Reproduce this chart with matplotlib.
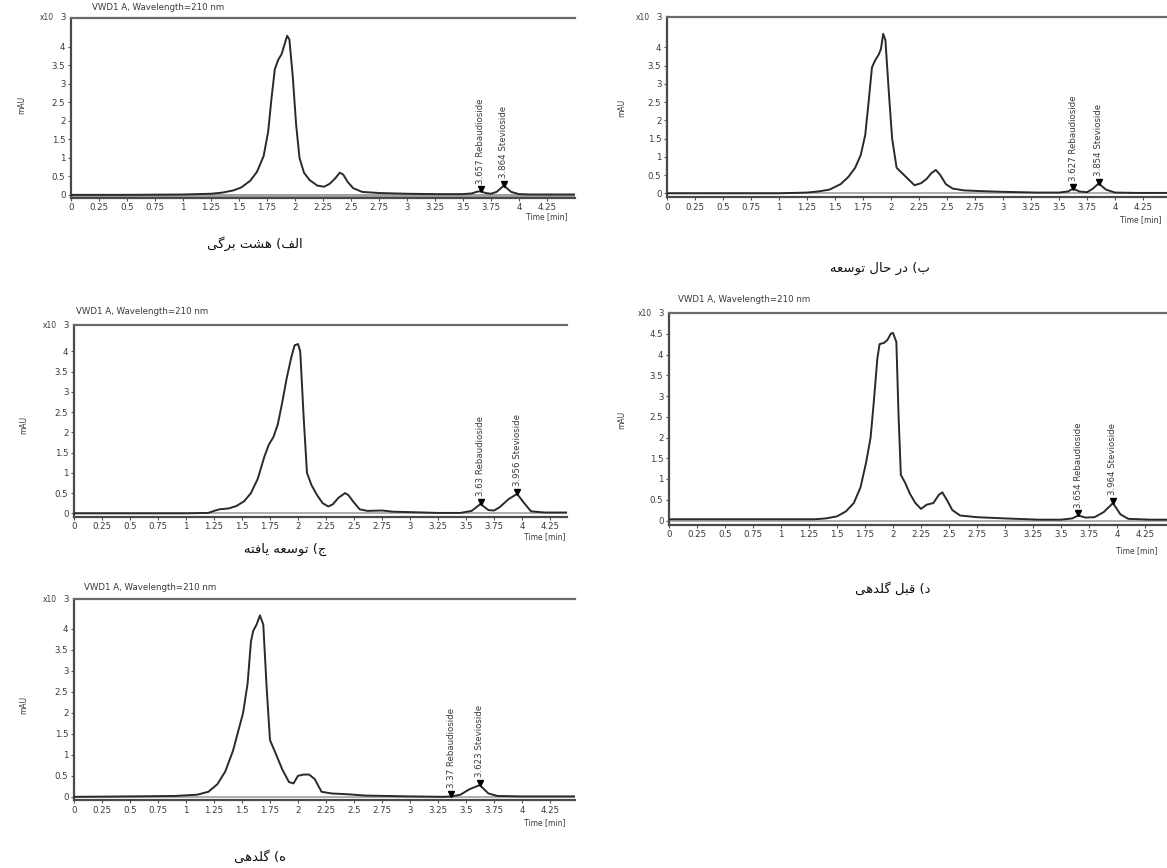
import matplotlib
matplotlib.use("Agg")
import matplotlib.pyplot as plt

# ---------------- data ----------------
tA = [0, 0.5, 1.0, 1.25, 1.35, 1.45, 1.52, 1.6, 1.66, 1.72, 1.76, 1.79, 1.82, 1.85, 1.88, 1.91, 1.93, 1.95,
      1.98, 2.01, 2.04, 2.08, 2.13, 2.2, 2.26, 2.31, 2.36, 2.4, 2.43, 2.47, 2.52, 2.6, 2.75, 3.0, 3.25, 3.5,
      3.58, 3.62, 3.657, 3.7, 3.75, 3.8, 3.864, 3.93, 4.0, 4.1, 4.5]
vA = [0, 0, 0.01, 0.03, 0.06, 0.12, 0.2, 0.38, 0.62, 1.05, 1.7, 2.6, 3.4, 3.65, 3.8, 4.1, 4.3, 4.2,
      3.2, 1.9, 1.0, 0.6, 0.4, 0.25, 0.22, 0.3, 0.45, 0.6, 0.55, 0.35, 0.18, 0.08, 0.05, 0.03, 0.02, 0.02,
      0.04, 0.08, 0.1, 0.05, 0.03, 0.08, 0.25, 0.08, 0.02, 0.01, 0.01]

tB = [0, 0.5, 1.0, 1.25, 1.35, 1.45, 1.55, 1.62, 1.68, 1.73, 1.77, 1.8, 1.83, 1.86, 1.89, 1.91, 1.93, 1.95,
      1.98, 2.01, 2.05, 2.1, 2.15, 2.21, 2.27, 2.32, 2.36, 2.4, 2.44, 2.49, 2.55, 2.65, 2.8, 3.0, 3.3, 3.5,
      3.58, 3.627, 3.68, 3.75, 3.8, 3.854, 3.92, 4.0, 4.2, 4.55]
vB = [0, 0, 0, 0.02, 0.05, 0.1, 0.25, 0.45, 0.7, 1.05, 1.6, 2.5, 3.45, 3.65, 3.8, 3.95, 4.37, 4.2,
      2.8, 1.5, 0.7, 0.55, 0.4, 0.22, 0.28, 0.4, 0.55, 0.64, 0.5, 0.25, 0.13, 0.08, 0.06, 0.04, 0.02, 0.02,
      0.05, 0.13, 0.05, 0.03, 0.12, 0.27, 0.1, 0.02, 0.01, 0.01]

tC = [0, 0.5, 1.0, 1.2, 1.25, 1.3, 1.38, 1.45, 1.52, 1.58, 1.64, 1.7, 1.74, 1.78, 1.82, 1.86, 1.9, 1.94,
      1.97, 2.0, 2.02, 2.05, 2.08, 2.12, 2.17, 2.22, 2.27, 2.31, 2.36, 2.42, 2.45, 2.49, 2.55, 2.62, 2.75,
      2.85, 3.0, 3.25, 3.45, 3.55, 3.63, 3.7, 3.75, 3.8, 3.88, 3.956, 4.02, 4.08, 4.2, 4.4]
vC = [0, 0, 0, 0.01, 0.06, 0.1, 0.12, 0.18, 0.3, 0.5, 0.85, 1.4, 1.7, 1.88, 2.2, 2.75, 3.35, 3.85,
      4.15, 4.18, 4.0, 2.4, 1.0, 0.7, 0.45, 0.25, 0.17, 0.22, 0.38, 0.5, 0.45, 0.3, 0.1, 0.06, 0.07,
      0.04, 0.03, 0.01, 0.01, 0.06, 0.23, 0.08, 0.07, 0.15, 0.35, 0.48, 0.25, 0.05, 0.02, 0.02]

tD = [0, 0.5, 1.0, 1.3, 1.4, 1.5, 1.58, 1.65, 1.71, 1.76, 1.8, 1.83, 1.86, 1.88, 1.92, 1.95, 1.98, 2.0,
      2.03, 2.05, 2.07, 2.11, 2.15, 2.2, 2.25, 2.3, 2.36, 2.41, 2.44, 2.48, 2.53, 2.6, 2.75, 3.0, 3.3, 3.5,
      3.6, 3.654, 3.72, 3.8, 3.88, 3.964, 4.03, 4.1, 4.3, 4.55]
vD = [0.03, 0.03, 0.03, 0.03, 0.05, 0.1, 0.22, 0.42, 0.8, 1.4, 2.0, 2.9, 3.9, 4.25, 4.28, 4.35, 4.5, 4.52,
      4.3, 2.5, 1.1, 0.9, 0.65, 0.42, 0.28, 0.38, 0.42, 0.62, 0.68, 0.5, 0.25, 0.12, 0.08, 0.05, 0.02, 0.02,
      0.05, 0.12, 0.07, 0.08, 0.2, 0.42, 0.15, 0.04, 0.02, 0.02]

tE = [0, 0.5, 0.9, 1.1, 1.2, 1.28, 1.35, 1.42, 1.47, 1.51, 1.55, 1.58, 1.6, 1.63, 1.66, 1.69, 1.72, 1.75,
      1.79, 1.86, 1.92, 1.96, 2.0, 2.05, 2.1, 2.15, 2.21, 2.3, 2.45, 2.6, 3.0, 3.3, 3.37, 3.45, 3.53, 3.623,
      3.7, 3.78, 4.0, 4.5]
vE = [0, 0.01, 0.02, 0.05, 0.12, 0.3, 0.6, 1.1, 1.6, 2.0, 2.7, 3.7, 3.95, 4.1, 4.32, 4.1, 2.6, 1.35,
      1.1, 0.65, 0.35, 0.32, 0.5, 0.53, 0.53, 0.42, 0.12, 0.08, 0.06, 0.03, 0.01, 0.0, 0.01, 0.05, 0.18, 0.28,
      0.08, 0.02, 0.01, 0.01]

peak_labels = {
    "A": ["3.657 Rebaudioside", "3.864 Stevioside"],
    "B": ["3.627 Rebaudioside", "3.854 Stevioside"],
    "C": ["3.63 Rebaudioside", "3.956 Stevioside"],
    "D": ["3.654 Rebaudioside", "3.964 Stevioside"],
    "E": ["3.37 Rebaudioside", "3.623 Stevioside"],
}
peak_times = {"A": [3.657, 3.864], "B": [3.627, 3.854], "C": [3.63, 3.956],
              "D": [3.654, 3.964], "E": [3.37, 3.623]}
peak_heights = {"A": [0.1, 0.25], "B": [0.13, 0.27], "C": [0.23, 0.48],
                "D": [0.12, 0.42], "E": [0.02, 0.28]}

captions = {"A": "الف) هشت برگی", "B": "ب) در حال توسعه", "C": "ج) توسعه یافته",
            "D": "د) قبل گلدهی", "E": "ه) گلدهی"}

x_ticks = [0, 0.25, 0.5, 0.75, 1, 1.25, 1.5, 1.75, 2, 2.25, 2.5, 2.75, 3, 3.25, 3.5, 3.75, 4, 4.25]
x_tick_labels = ["0", "0.25", "0.5", "0.75", "1", "1.25", "1.5", "1.75", "2", "2.25", "2.5", "2.75",
                 "3", "3.25", "3.5", "3.75", "4", "4.25"]
y_ticks = [0, 0.5, 1, 1.5, 2, 2.5, 3, 3.5, 4, 4.5]
y_tick_labels = ["0", "0.5", "1", "1.5", "2", "2.5", "3", "3.5", "4", "4.5"]
title_text = "VWD1 A, Wavelength=210 nm"

# ---------------- Arabic/Persian shaping ----------------
FORMS = {
    'ا': ('\uFE8D', '\uFE8E', None, None),
    'ب': ('\uFE8F', '\uFE90', '\uFE91', '\uFE92'),
    'ت': ('\uFE95', '\uFE96', '\uFE97', '\uFE98'),
    'ج': ('\uFE9D', '\uFE9E', '\uFE9F', '\uFEA0'),
    'ح': ('\uFEA1', '\uFEA2', '\uFEA3', '\uFEA4'),
    'د': ('\uFEA9', '\uFEAA', None, None),
    'ر': ('\uFEAD', '\uFEAE', None, None),
    'س': ('\uFEB1', '\uFEB2', '\uFEB3', '\uFEB4'),
    'ش': ('\uFEB5', '\uFEB6', '\uFEB7', '\uFEB8'),
    'ع': ('\uFEC9', '\uFECA', '\uFECB', '\uFECC'),
    'ف': ('\uFED1', '\uFED2', '\uFED3', '\uFED4'),
    'ق': ('\uFED5', '\uFED6', '\uFED7', '\uFED8'),
    'ل': ('\uFEDD', '\uFEDE', '\uFEDF', '\uFEE0'),
    'ه': ('\uFEE9', '\uFEEA', '\uFEEB', '\uFEEC'),
    'و': ('\uFEED', '\uFEEE', None, None),
    'ی': ('\uFBFC', '\uFBFD', '\uFBFE', '\uFBFF'),
    'گ': ('\uFB92', '\uFB93', '\uFB94', '\uFB95'),
}


def shape_rtl(text):
    out = []
    n = len(text)
    for i, ch in enumerate(text):
        if ch not in FORMS:
            out.append(ch)
            continue
        prev = text[i - 1] if i > 0 else None
        nxt = text[i + 1] if i < n - 1 else None
        join_prev = prev in FORMS and FORMS[prev][2] is not None
        join_next = FORMS[ch][2] is not None and nxt in FORMS
        iso, fin, ini, med = FORMS[ch]
        if join_prev and join_next:
            out.append(med)
        elif join_prev:
            out.append(fin)
        elif join_next:
            out.append(ini)
        else:
            out.append(iso)
    vis = "".join(reversed(out))
    vis = vis.translate(str.maketrans({"(": ")", ")": "("}))
    return vis


# ---------------- figure ----------------
W, H = 1167, 868
fig = plt.figure(figsize=(W / 100, H / 100), dpi=100)
fig.patch.set_facecolor("white")

TXT = "#3a3a3a"
LINE = "#2a2a2a"


def make_axes(left, top, xpu, xlim, ypu, ylim):
    width = (xlim[1] - xlim[0]) * xpu
    height = (ylim[1] - ylim[0]) * ypu
    bottom = top + height
    ax = fig.add_axes([left / W, 1 - bottom / H, width / W, height / H])
    ax.set_xlim(*xlim)
    ax.set_ylim(*ylim)
    return ax


def fig_text(x, y, s, **kw):
    fig.text(x / W, 1 - y / H, s, **kw)


panels = {
    "A": dict(t=tA, v=vA, left=71, top=18, xlim=(0, 4.5), ypu=37, ylim=(-0.08, 4.78), ymax_tick=4,
              title=(92, 12), base_lw=2.2),
    "B": dict(t=tB, v=vB, left=667, top=17, xlim=(0, 4.55), ypu=36.5, ylim=(-0.1, 4.83), ymax_tick=4,
              title=None, base_lw=1.2),
    "C": dict(t=tC, v=vC, left=74, top=325, xlim=(0, 4.4), ypu=40.5, ylim=(-0.08, 4.65), ymax_tick=4,
              title=(76, 316), base_lw=1.2),
    "D": dict(t=tD, v=vD, left=669, top=313, xlim=(0, 4.55), ypu=41.5, ylim=(-0.1, 5.0), ymax_tick=4.5,
              title=(678, 304), base_lw=1.2),
    "E": dict(t=tE, v=vE, left=74, top=599, xlim=(0, 4.47), ypu=42, ylim=(-0.08, 4.71), ymax_tick=4,
              title=(84, 592), base_lw=1.2),
}

caption_pos = {"A": (255, 244), "B": (880, 268), "C": (285, 549), "D": (893, 589), "E": (260, 857)}
ylabel_pos = {"A": (22, 105), "B": (622, 108), "C": (24, 425), "D": (622, 420), "E": (24, 705)}
time_pos = {"A": (568, 217), "B": (1162, 220), "C": (566, 537), "D": (1158, 551), "E": (566, 823)}

for key, p in panels.items():
    ax = make_axes(p["left"], p["top"], 112, p["xlim"], p["ypu"], p["ylim"])
    ax.set_facecolor("white")
    # integration baseline
    ax.axhline(0, color="#a0a0a0", lw=p["base_lw"], zorder=1)
    ax.plot(p["t"], p["v"], color=LINE, lw=1.4, zorder=3)
    # peak markers and labels
    for lab, tt, hh in zip(peak_labels[key], peak_times[key], peak_heights[key]):
        ax.plot([tt], [hh + 0.05], marker="v", color="black", ms=4.5, zorder=4)
        ax.annotate(lab, xy=(tt, hh + 0.05), xytext=(0, 4), textcoords="offset points",
                    rotation=90, ha="center", va="bottom", fontsize=6.2, color=TXT)
    # spines
    ax.spines["right"].set_visible(False)
    for s in ("left", "bottom"):
        ax.spines[s].set_color("#4a4a4a")
        ax.spines[s].set_linewidth(1.6)
    ax.spines["top"].set_color("#6a6a6a")
    ax.spines["top"].set_linewidth(1.6)
    # ticks
    xt = [x for x in x_ticks if x <= p["xlim"][1]]
    xl = x_tick_labels[:len(xt)]
    ax.set_xticks(xt)
    ax.set_xticklabels(xl)
    yt = [y for y in y_ticks if y <= p["ymax_tick"]]
    ax.set_yticks(yt)
    ax.set_yticklabels(y_tick_labels[:len(yt)])
    ax.tick_params(axis="both", labelsize=6.2, colors="#555555", labelcolor=TXT, length=2.5, width=0.8,
                   pad=1.5)
    # exponent at top
    ax.annotate("3", xy=(0, 1), xycoords="axes fraction", xytext=(-4, 0), textcoords="offset points",
                ha="right", va="center", fontsize=6.2, color=TXT)
    ax.annotate("x10", xy=(0, 1), xycoords="axes fraction", xytext=(-12, 0), textcoords="offset points",
                ha="right", va="center", fontsize=5.5, color=TXT)
    if p["title"] is not None:
        fig_text(p["title"][0], p["title"][1], title_text, fontsize=6.2, color=TXT, ha="left", va="bottom")
    fig_text(*ylabel_pos[key], "mAU", fontsize=5.5, color=TXT, rotation=90, ha="center", va="center")
    fig_text(*time_pos[key], "Time [min]", fontsize=5.5, color=TXT, ha="right", va="center")
    fig_text(*caption_pos[key], shape_rtl(captions[key]), fontsize=9.5, color="#111111",
             ha="center", va="center", family=["DejaVu Sans"])

fig.savefig("out.png", dpi=100, facecolor="white")
